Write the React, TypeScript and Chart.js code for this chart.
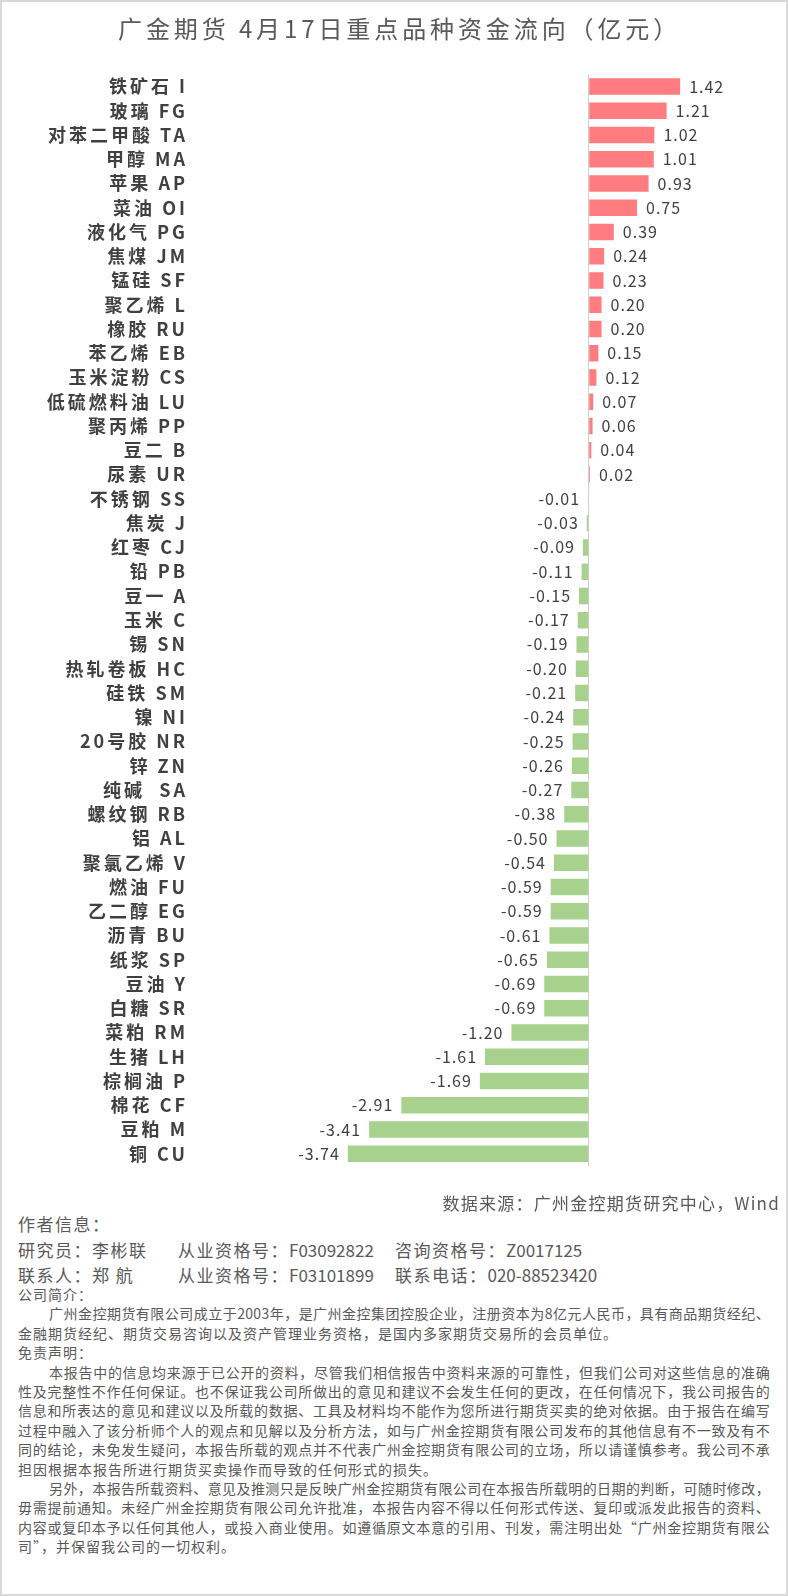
import React, { useEffect, useRef } from 'react';
import { Chart, registerables } from 'chart.js';

Chart.register(...registerables);

const TITLE = '广金期货 4月17日重点品种资金流向（亿元）';

const names = [
  '铁矿石', '玻璃', '对苯二甲酸', '甲醇', '苹果', '菜油', '液化气', '焦煤', '锰硅', '聚乙烯',
  '橡胶', '苯乙烯', '玉米淀粉', '低硫燃料油', '聚丙烯', '豆二', '尿素', '不锈钢', '焦炭', '红枣',
  '铅', '豆一', '玉米', '锡', '热轧卷板', '硅铁', '镍', '20号胶', '锌', '纯碱 ',
  '螺纹钢', '铝', '聚氯乙烯', '燃油', '乙二醇', '沥青', '纸浆', '豆油', '白糖', '菜粕',
  '生猪', '棕榈油', '棉花', '豆粕', '铜',
];

const codes = [
  'I', 'FG', 'TA', 'MA', 'AP', 'OI', 'PG', 'JM', 'SF', 'L',
  'RU', 'EB', 'CS', 'LU', 'PP', 'B', 'UR', 'SS', 'J', 'CJ',
  'PB', 'A', 'C', 'SN', 'HC', 'SM', 'NI', 'NR', 'ZN', 'SA',
  'RB', 'AL', 'V', 'FU', 'EG', 'BU', 'SP', 'Y', 'SR', 'RM',
  'LH', 'P', 'CF', 'M', 'CU',
];

const values = [
  1.42, 1.21, 1.02, 1.01, 0.93, 0.75, 0.39, 0.24, 0.23, 0.2,
  0.2, 0.15, 0.12, 0.07, 0.06, 0.04, 0.02, -0.01, -0.03, -0.09,
  -0.11, -0.15, -0.17, -0.19, -0.2, -0.21, -0.24, -0.25, -0.26, -0.27,
  -0.38, -0.5, -0.54, -0.59, -0.59, -0.61, -0.65, -0.69, -0.69, -1.2,
  -1.61, -1.69, -2.91, -3.41, -3.74,
];

const X_MIN = -6;
const X_MAX = 2.5;
const POS_COLOR = '#FF7C80';
const NEG_COLOR = '#A9D18E';
const TEXT_COLOR = '#404040';
const GRAY = '#595959';
const FONT = '"Noto Sans CJK SC", "Noto Sans", sans-serif';

const SOURCE = '数据来源：广州金控期货研究中心，Wind';
const AUTHOR_HEAD = '作者信息：';
const authorRow1 = [
  ['研究员：李彬联', ''],
  ['从业资格号：', 'F03092822'],
  ['咨询资格号：', 'Z0017125'],
];
const authorRow2 = [
  ['联系人：郑 航', ''],
  ['从业资格号：', 'F03101899'],
  ['联系电话：', '020-88523420'],
];
const segmentX = [18, 178, 395];

const smallLines: { t: string; full: boolean; indent: boolean }[] = [
  { t: '公司简介：', full: false, indent: false },
  { t: '广州金控期货有限公司成立于2003年，是广州金控集团控股企业，注册资本为8亿元人民币，具有商品期货经纪、', full: true, indent: true },
  { t: '金融期货经纪、期货交易咨询以及资产管理业务资格，是国内多家期货交易所的会员单位。', full: false, indent: false },
  { t: '免责声明：', full: false, indent: false },
  { t: '本报告中的信息均来源于已公开的资料，尽管我们相信报告中资料来源的可靠性，但我们公司对这些信息的准确', full: true, indent: true },
  { t: '性及完整性不作任何保证。也不保证我公司所做出的意见和建议不会发生任何的更改，在任何情况下，我公司报告的', full: true, indent: false },
  { t: '信息和所表达的意见和建议以及所载的数据、工具及材料均不能作为您所进行期货买卖的绝对依据。由于报告在编写', full: true, indent: false },
  { t: '过程中融入了该分析师个人的观点和见解以及分析方法，如与广州金控期货有限公司发布的其他信息有不一致及有不', full: true, indent: false },
  { t: '同的结论，未免发生疑问，本报告所载的观点并不代表广州金控期货有限公司的立场，所以请谨慎参考。我公司不承', full: true, indent: false },
  { t: '担因根据本报告所进行期货买卖操作而导致的任何形式的损失。', full: false, indent: false },
  { t: '另外，本报告所载资料、意见及推测只是反映广州金控期货有限公司在本报告所载明的日期的判断，可随时修改，', full: true, indent: true },
  { t: '毋需提前通知。未经广州金控期货有限公司允许批准，本报告内容不得以任何形式传送、复印或派发此报告的资料、', full: true, indent: false },
  { t: '内容或复印本予以任何其他人，或投入商业使用。如遵循原文本意的引用、刊发，需注明出处“广州金控期货有限公', full: true, indent: false },
  { t: '司”，并保留我公司的一切权利。', full: false, indent: false },
];

const labels = names.map((n, i) => n + ' ' + codes[i]);

const spacingPlugin = {
  id: 'spacingPlugin',
  beforeDraw(chart: any) {
    chart.ctx.letterSpacing = '3px';
  },
  afterDraw(chart: any) {
    chart.ctx.letterSpacing = '0px';
  },
};

const valueLabelPlugin = {
  id: 'valueLabelPlugin',
  afterDatasetsDraw(chart: any) {
    const ctx = chart.ctx;
    const meta = chart.getDatasetMeta(0);
    ctx.save();
    ctx.letterSpacing = '1px';
    ctx.font = `16px ${FONT}`;
    ctx.fillStyle = TEXT_COLOR;
    ctx.textBaseline = 'middle';
    meta.data.forEach((el: any, i: number) => {
      const v = values[i];
      const txt = v.toFixed(2);
      if (v >= 0) {
        ctx.textAlign = 'left';
        ctx.fillText(txt, el.x + 9, el.y);
      } else {
        ctx.textAlign = 'right';
        ctx.fillText(txt, el.x - 8, el.y);
      }
    });
    ctx.restore();
  },
};

export default function App() {
  const ref = useRef<HTMLCanvasElement>(null);

  useEffect(() => {
    const chart = new Chart(ref.current as HTMLCanvasElement, {
      type: 'bar',
      data: {
        labels,
        datasets: [
          {
            data: values,
            backgroundColor: values.map((v) => (v >= 0 ? POS_COLOR : NEG_COLOR)),
            borderWidth: 0,
            barPercentage: 0.68,
            categoryPercentage: 1,
          },
        ],
      },
      options: {
        indexAxis: 'y',
        animation: false,
        responsive: true,
        maintainAspectRatio: false,
        layout: { padding: { top: 74.4, bottom: 0, left: 0, right: 38.3 } },
        plugins: {
          legend: { display: false },
          tooltip: { enabled: false },
          title: { display: false },
        },
        scales: {
          x: {
            type: 'linear',
            min: X_MIN,
            max: X_MAX,
            display: true,
            ticks: { display: false, stepSize: 1 },
            border: { display: false },
            grid: {
              drawTicks: false,
              lineWidth: 1,
              color: (c: any) => (c.tick && c.tick.value === 0 ? '#cfcfcf' : 'rgba(0,0,0,0)'),
            },
          },
          y: {
            grid: { display: false, drawTicks: false },
            border: { display: false },
            ticks: {
              color: TEXT_COLOR,
              padding: 14.3,
              autoSkip: false,
              font: { family: FONT, size: 18, weight: 'bold' },
            },
            afterFit: (scale: any) => {
              scale.width = 202.3;
            },
          },
        },
      } as any,
      plugins: [spacingPlugin, valueLabelPlugin],
    });
    return () => chart.destroy();
  }, []);

  const base: React.CSSProperties = {
    position: 'absolute',
    fontFamily: FONT,
    color: GRAY,
    whiteSpace: 'nowrap',
    margin: 0,
  };

  const lineGap = 19.4;

  return (
    <div style={{ position: 'absolute', left: 0, top: 0, width: 788, height: 1596, background: '#fff', overflow: 'hidden' }}>
      <div style={{ position: 'absolute', left: 0, top: 0, width: 788, height: 1191 }}>
        <canvas ref={ref} />
      </div>
      <div style={{ ...base, left: 118, top: 13, fontSize: 24, lineHeight: '30px', letterSpacing: '3.9px' }}>{TITLE}</div>
      <div style={{ ...base, right: 8, top: 1193, fontSize: 17, lineHeight: '20px', letterSpacing: '1.25px' }}>{SOURCE}</div>
      <div style={{ ...base, left: 18, top: 1214, fontSize: 17, lineHeight: '20px', letterSpacing: '1.5px' }}>{AUTHOR_HEAD}</div>
      {[authorRow1, authorRow2].map((row, r) =>
        row.map((seg, s) => (
          <div
            key={`a${r}-${s}`}
            style={{ ...base, left: segmentX[s], top: 1240 + r * 25, fontSize: 17, lineHeight: '20px' }}
          >
            <span style={{ letterSpacing: '1.5px' }}>{seg[0]}</span>
            <span>{seg[1]}</span>
          </div>
        ))
      )}
      {smallLines.map((ln, i) => (
        <div
          key={`s${i}`}
          style={{
            ...base,
            left: 18,
            top: 1285 + i * lineGap,
            width: 752,
            boxSizing: 'border-box',
            paddingLeft: ln.indent ? 31 : 0,
            fontSize: 14,
            lineHeight: `${lineGap}px`,
            letterSpacing: ln.full ? '0.3px' : '1px',
            textAlign: ln.full ? 'justify' : 'left',
            textAlignLast: ln.full ? 'justify' : 'left',
            whiteSpace: 'normal',
            overflow: 'hidden',
            height: lineGap,
          } as React.CSSProperties}
        >
          {ln.t}
        </div>
      ))}
      <div style={{ position: 'absolute', left: 0, top: 0, width: 788, height: 1596, border: '2px solid #d9d9d9', boxSizing: 'border-box', pointerEvents: 'none' }} />
    </div>
  );
}
